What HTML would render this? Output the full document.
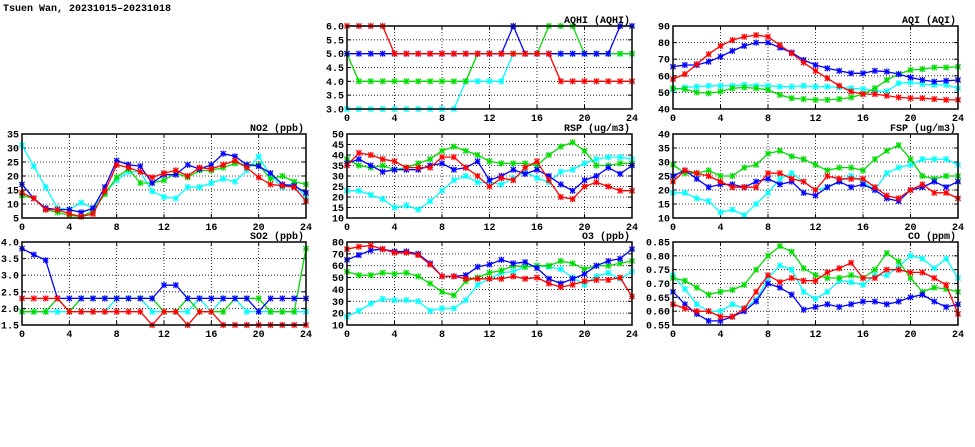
<!DOCTYPE html>
<html><head><meta charset="utf-8"><style>
html,body{margin:0;padding:0;background:#fff;width:975px;height:447px;overflow:hidden}
svg text{font-family:"Liberation Mono",monospace;font-weight:bold;font-size:10px;fill:#000}
</style></head><body>
<svg id="chart" width="975" height="447" viewBox="0 0 975 447" xmlns="http://www.w3.org/2000/svg">
<text x="3" y="11" font-size="10">Tsuen Wan, 20231015–20231018</text>
</svg>
<script>
const hours = [0,1,2,3,4,5,6,7,8,9,10,11,12,13,14,15,16,17,18,19,20,21,22,23,24];
const xTickLabels = ["0","4","8","12","16","20","24"];
const seriesColors = ["#00ffff","#00dd00","#0000ff","#ff0000"];

const aqhiCyan  = [3,3,3,3,3,3,3,3,3,3,4,4,4,4,5,5,5,5,5,5,5,5,5,5,5];
const aqhiGreen = [5,4,4,4,4,4,4,4,4,4,4,5,5,5,5,5,5,6,6,6,5,5,5,5,5];
const aqhiBlue  = [5,5,5,5,5,5,5,5,5,5,5,5,5,5,6,5,5,5,5,5,5,5,5,6,6];
const aqhiRed   = [6,6,6,6,5,5,5,5,5,5,5,5,5,5,5,5,5,5,4,4,4,4,4,4,4];
const aqhiTicks = [3,3.5,4,4.5,5,5.5,6];

const aqiCyan  = [51.5,53,53.5,54,54,54,54.5,54,54,53.5,53.5,54,53.5,53.5,53,52.5,52,51,50.5,55.5,56,55,54.5,54.5,52.5];
const aqiGreen = [52.5,52,50,49.5,50.5,52.5,53,52.5,51.5,48.5,46.5,46,45.5,45.5,46,47,49,52.5,57.5,61,63.5,64,65,65,65.5];
const aqiBlue  = [65.5,66.5,66.5,68.5,71.5,75,78,80,80,77,74,69.5,66.5,64.5,63,61.5,61.5,63,62.5,61,59,57.5,56.5,57,57.5];
const aqiRed   = [58,61,67,73,78,81.5,83.5,84.5,83.5,78.5,73.5,68,63,58.5,54,50.5,49,49,48,47,46.5,46.5,46,45.5,45.5];
const aqiTicks = [40,50,60,70,80,90];

const no2Cyan  = [31,23.5,16,8.5,8,10.5,8.5,14,18.5,21.5,21.5,14.5,12.5,12,16,16,17.5,19,18,22,27,20,16,17.5,12];
const no2Green = [13,12,8,7,6,5.5,7.5,13.5,19.5,22.5,17.5,17.5,18.5,21,19.5,22,22,23,24.5,24,24,19,20,18,17];
const no2Blue  = [17,12,8.5,8,8,7,8.5,16,25.5,24,23.5,17.5,20.5,20.5,24,22.5,24,28,27,24,23.5,21,17,16.5,14];
const no2Red   = [14,12,8,8,6.5,5.5,6.5,14.5,24,23,21.5,19.5,21,22,20,23,22.5,24,25.5,23,19.5,17,16.5,16,11];
const no2Ticks = [5,10,15,20,25,30,35];

const rspCyan  = [23,23,21,19,15,16,14,18,23,28,30,27,27,26,29,32,29,27,32,33,36,38,39,39,38];
const rspGreen = [38,35,34,35,33,34,36,38,42,44,42,40,37,36,36,36,35,40,44,46,42,35,35,36,36];
const rspBlue  = [36,38,35,32,33,33,33,35,36,33,34,37,28,30,33,31,33,30,26,23,28,30,34,31,35];
const rspRed   = [35,41,40,38,37,34,34,34,39,39,34,30,25,29,28,34,37,28,20,19,25,27,25,23,23];
const rspTicks = [10,15,20,25,30,35,40,45,50];

const fspCyan  = [19,19,17,16,12,13,11,15,19,24,26,23,20,21,23,25,23,20,26,28,29,31,31,31,29];
const fspGreen = [29,26,26,27,25,25,28,29,33,34,32,31,29,27,28,28,27,31,34,36,31,25,24,25,25];
const fspBlue  = [25,27,24,21,22,22,21,23,24,22,23,19,18,21,23,21,22,20,17,16,20,21,23,21,23];
const fspRed   = [23,27,26,25,23,21,21,21,26,26,24,23,20,25,24,24,24,21,18,17,20,22,19,19,17];
const fspTicks = [10,15,20,25,30,35,40];

const so2Cyan  = [1.9,1.9,1.9,1.9,1.9,1.9,1.9,1.9,2.3,2.3,2.3,1.9,1.9,1.9,1.9,2.3,1.9,2.3,2.3,1.9,1.9,1.9,1.9,1.9,1.9];
const so2Green = [1.9,1.9,1.9,2.3,1.9,2.3,2.3,2.3,2.3,2.3,2.3,2.3,1.9,1.9,2.3,1.9,1.9,1.9,2.3,2.3,2.3,1.9,1.9,1.9,3.8];
const so2Blue  = [3.8,3.62,3.45,2.3,2.3,2.3,2.3,2.3,2.3,2.3,2.3,2.3,2.7,2.7,2.3,2.3,2.3,2.3,2.3,2.3,1.9,2.3,2.3,2.3,2.3];
const so2Red   = [2.3,2.3,2.3,2.3,1.9,1.9,1.9,1.9,1.9,1.9,1.9,1.5,1.9,1.9,1.5,1.9,1.9,1.5,1.5,1.5,1.5,1.5,1.5,1.5,1.5];
const so2Ticks = [1.5,2,2.5,3,3.5,4];

const o3Cyan  = [17,22,28,32,31,31,30,22,24,24,31,44,49,54,55,59,60,59,57,50,44,51,54,49,55];
const o3Green = [55,52,52,54,53,54,51,45,38,35,47,50,54,56,60,59,60,60,64,62,57,60,60,62,64];
const o3Blue  = [65,69,73,74,72,72,70,62,51,51,52,59,61,65,62,63,58,49,45,49,53,60,64,66,74];
const o3Red   = [74,76,77,74,71,71,69,61,51,51,49,49,49,49,51,49,50,45,42,44,47,48,48,50,34];
const o3Ticks = [10,20,30,40,50,60,70,80];

const coCyan  = [0.73,0.68,0.625,0.6,0.6,0.625,0.61,0.64,0.72,0.765,0.75,0.67,0.645,0.67,0.71,0.705,0.695,0.73,0.73,0.76,0.8,0.79,0.755,0.79,0.72];
const coGreen = [0.72,0.71,0.685,0.66,0.67,0.677,0.695,0.75,0.8,0.835,0.815,0.755,0.73,0.72,0.72,0.73,0.72,0.75,0.81,0.78,0.72,0.67,0.685,0.68,0.67];
const coBlue  = [0.67,0.625,0.59,0.565,0.565,0.58,0.6,0.635,0.7,0.685,0.66,0.605,0.615,0.625,0.615,0.625,0.635,0.635,0.625,0.635,0.65,0.66,0.635,0.615,0.625];
const coRed   = [0.625,0.61,0.6,0.6,0.58,0.58,0.61,0.67,0.73,0.705,0.72,0.71,0.71,0.74,0.755,0.775,0.72,0.72,0.75,0.75,0.74,0.74,0.72,0.695,0.59];
const coTicks = [0.55,0.6,0.65,0.7,0.75,0.8,0.85];

const svg = document.getElementById('chart');
const NS = 'http://www.w3.org/2000/svg';
function mk(tag, attrs){const e=document.createElementNS(NS,tag);for(const k in attrs)e.setAttribute(k,attrs[k]);return e;}

const panels = [
 {key:'aqhi',title:'AQHI (AQHI)',x0:347,x1:632,y0:26,y1:109,ticks:aqhiTicks,dec:1,series:[aqhiCyan,aqhiGreen,aqhiBlue,aqhiRed]},
 {key:'aqi',title:'AQI (AQI)',x0:673,x1:958,y0:26,y1:109,ticks:aqiTicks,dec:0,series:[aqiCyan,aqiGreen,aqiBlue,aqiRed]},
 {key:'no2',title:'NO2 (ppb)',x0:22,x1:306,y0:134,y1:218,ticks:no2Ticks,dec:0,series:[no2Cyan,no2Green,no2Blue,no2Red]},
 {key:'rsp',title:'RSP (ug/m3)',x0:347,x1:632,y0:134,y1:218,ticks:rspTicks,dec:0,series:[rspCyan,rspGreen,rspBlue,rspRed]},
 {key:'fsp',title:'FSP (ug/m3)',x0:673,x1:958,y0:134,y1:218,ticks:fspTicks,dec:0,series:[fspCyan,fspGreen,fspBlue,fspRed]},
 {key:'so2',title:'SO2 (ppb)',x0:22,x1:306,y0:242,y1:325,ticks:so2Ticks,dec:1,series:[so2Cyan,so2Green,so2Blue,so2Red]},
 {key:'o3',title:'O3 (ppb)',x0:347,x1:632,y0:242,y1:325,ticks:o3Ticks,dec:0,series:[o3Cyan,o3Green,o3Blue,o3Red]},
 {key:'co',title:'CO (ppm)',x0:673,x1:958,y0:242,y1:325,ticks:coTicks,dec:2,series:[coCyan,coGreen,coBlue,coRed]}
];
const colorNames=['cyan','green','blue','red'];

panels.forEach(p=>{
  const g = mk('g',{});
  
  
  svg.appendChild(g);
  const ymin=p.ticks[0], ymax=p.ticks[p.ticks.length-1];
  const xs=h=>p.x0+(h-hours[0])/(hours[hours.length-1]-hours[0])*(p.x1-p.x0);
  const ys=v=>p.y1-(v-ymin)/(ymax-ymin)*(p.y1-p.y0);
  p.ticks.forEach(t=>{
    const y=ys(t);
    if(t!==ymin&&t!==ymax){
      const l=mk('line',{x1:p.x0,x2:p.x1,y1:y,y2:y,stroke:'#000','stroke-width':0.8,'stroke-dasharray':'1,2'});
      
      
      g.appendChild(l);
    }
    const tk=mk('text',{x:p.x0-3,y:y+3.5,'text-anchor':'end'});
    
    
    tk.textContent=t.toFixed(p.dec);
    g.appendChild(tk);
    g.appendChild(mk('line',{x1:p.x0,x2:p.x0+4,y1:y,y2:y,stroke:'#000'}));
    g.appendChild(mk('line',{x1:p.x1-4,x2:p.x1,y1:y,y2:y,stroke:'#000'}));
  });
  xTickLabels.forEach(lbl=>{
    const x=xs(+lbl);
    if(+lbl!==0&&+lbl!==24){
      const l=mk('line',{x1:x,x2:x,y1:p.y0,y2:p.y1,stroke:'#000','stroke-width':0.8,'stroke-dasharray':'1,2'});
      
      
      g.appendChild(l);
    }
    const tk=mk('text',{x:x,y:p.y1+12,'text-anchor':'middle'});
    
    
    tk.textContent=lbl;
    g.appendChild(tk);
    g.appendChild(mk('line',{x1:x,x2:x,y1:p.y1-4,y2:p.y1,stroke:'#000'}));
    g.appendChild(mk('line',{x1:x,x2:x,y1:p.y0,y2:p.y0+4,stroke:'#000'}));
  });
  p.series.forEach((arr,si)=>{
    const c=seriesColors[si];
    const pts=arr.map((v,i)=>xs(hours[i]).toFixed(1)+','+ys(v).toFixed(1)).join(' ');
    const pl=mk('polyline',{points:pts,fill:'none',stroke:c,'stroke-width':1.3});
    
    
    g.appendChild(pl);
    arr.forEach((v,i)=>{
      const x=xs(hours[i]),y=ys(v),s=2.6;
      const m=mk('path',{d:`M${x-s},${y-s}L${x+s},${y+s}M${x-s},${y+s}L${x+s},${y-s}M${x},${y-s-0.5}L${x},${y+s+0.5}M${x-s},${y}L${x+s},${y}`,stroke:c,'stroke-width':1.2,fill:'none'});
      
      
      g.appendChild(m);
    });
  });
  const fr=mk('rect',{x:p.x0,y:p.y0,width:p.x1-p.x0,height:p.y1-p.y0,fill:'none',stroke:'#000','stroke-width':1.5});
  
  
  g.appendChild(fr);
  const tt=mk('text',{x:p.x1-2,y:p.y0-3,'text-anchor':'end'});
  
  
  tt.textContent=p.title;
  g.appendChild(tt);
});
</script>
</body></html>
